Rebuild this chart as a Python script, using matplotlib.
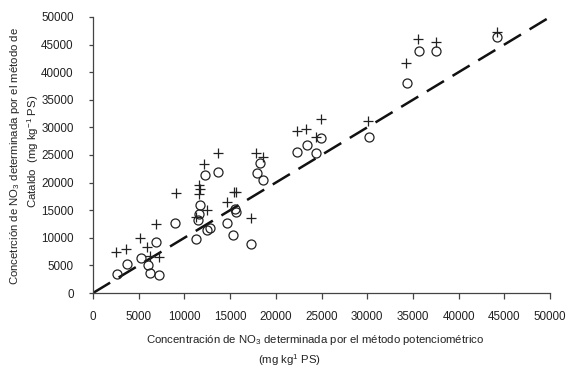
import numpy as np
import matplotlib
matplotlib.use("Agg")
import matplotlib.pyplot as plt

plt.rcParams['font.family'] = ['Liberation Sans', 'DejaVu Sans']
plt.rcParams['mathtext.fontset'] = 'custom'
plt.rcParams['mathtext.rm'] = 'Liberation Sans'
plt.rcParams['mathtext.it'] = 'Liberation Sans'

# potentiometric (x) vs Cataldo (y), mg kg-1 PS
circle_x = [2600, 3700, 5200, 6000, 6250, 7250, 6900, 9000, 11300, 11500, 11650,
            11700, 12200, 13700, 12500, 12750, 14700, 15350, 15500, 15600, 17300,
            17900, 18250, 18550, 22300, 23400, 24400, 24900, 30200, 34300, 35650,
            37550, 44150]
circle_y = [3400, 5250, 6300, 5100, 3550, 3350, 9200, 12600, 9850, 13200, 14300,
            15950, 21300, 22000, 11400, 11850, 12600, 10450, 15300, 14700, 8900,
            21800, 23500, 20500, 25500, 26800, 25300, 28000, 28200, 38100, 43750,
            43900, 46350]

plus_x = [2550, 3600, 5150, 5900, 6250, 7250, 6900, 9050, 11300, 11550, 11650,
          11700, 12450, 12100, 13700, 14700, 15450, 15600, 17300, 17800, 18550,
          22300, 23300, 24400, 24900, 30100, 34250, 35600, 37500, 44150]
plus_y = [7450, 8000, 9900, 8400, 6700, 6550, 12500, 18100, 13800, 17950, 19500,
          18900, 15000, 23400, 25450, 16450, 18300, 18300, 13550, 25300, 24600,
          29400, 29800, 28300, 31500, 31200, 41600, 46000, 45550, 47250]

line_x = [0, 50000]
line_y = [0, 50000]

ticks = np.arange(0, 50001, 5000)

fig = plt.figure(figsize=(5.68, 3.72), dpi=100)
ax = fig.add_axes([93/568, 1-293/372, 457/568, 276/372])

ax.plot(line_x, line_y, color='#111111', lw=1.8, dashes=(8, 4), zorder=1)
ax.plot(plus_x, plus_y, '+', ms=6.5, mew=0.9, color='#222222', zorder=2)
ax.plot(circle_x, circle_y, 'o', ms=6.5, mfc='none', mec='#222222', mew=0.9, zorder=3)

ax.set_xlim(0, 50000)
ax.set_ylim(0, 50000)
ax.set_xticks(ticks)
ax.set_yticks(ticks)
ax.set_xticklabels([str(t) for t in ticks])
ax.set_yticklabels([str(t) for t in ticks])

for s in ['top', 'right']:
    ax.spines[s].set_visible(False)
for s in ['left', 'bottom']:
    ax.spines[s].set_color('#444444')
    ax.spines[s].set_linewidth(0.9)
ax.tick_params(axis='x', direction='out', length=4, width=0.9, color='#444444',
               pad=9, labelsize=8.4, labelcolor='#222222')
ax.tick_params(axis='y', direction='out', length=3, width=0.9, color='#444444',
               pad=11, labelsize=8.4, labelcolor='#222222')

lab = dict(fontsize=8.2, color='#222222')
fig.text(315/568, 1-340/372, 'Concentración de NO$_3$ determinada por el método potenciométrico',
         ha='center', va='center', **lab)
fig.text(290/568, 1-360/372, '(mg kg$^{1}$ PS)', ha='center', va='center', **lab)
fig.text(15/568, 1-156/372, 'Concetrción de NO$_3$ determinada por el método de',
         ha='center', va='center', rotation=90, **lab)
fig.text(33/568, 1-151/372, 'Cataldo  (mg kg$^{-1}$ PS)',
         ha='center', va='center', rotation=90, **lab)

fig.savefig('out.png', dpi=100)
